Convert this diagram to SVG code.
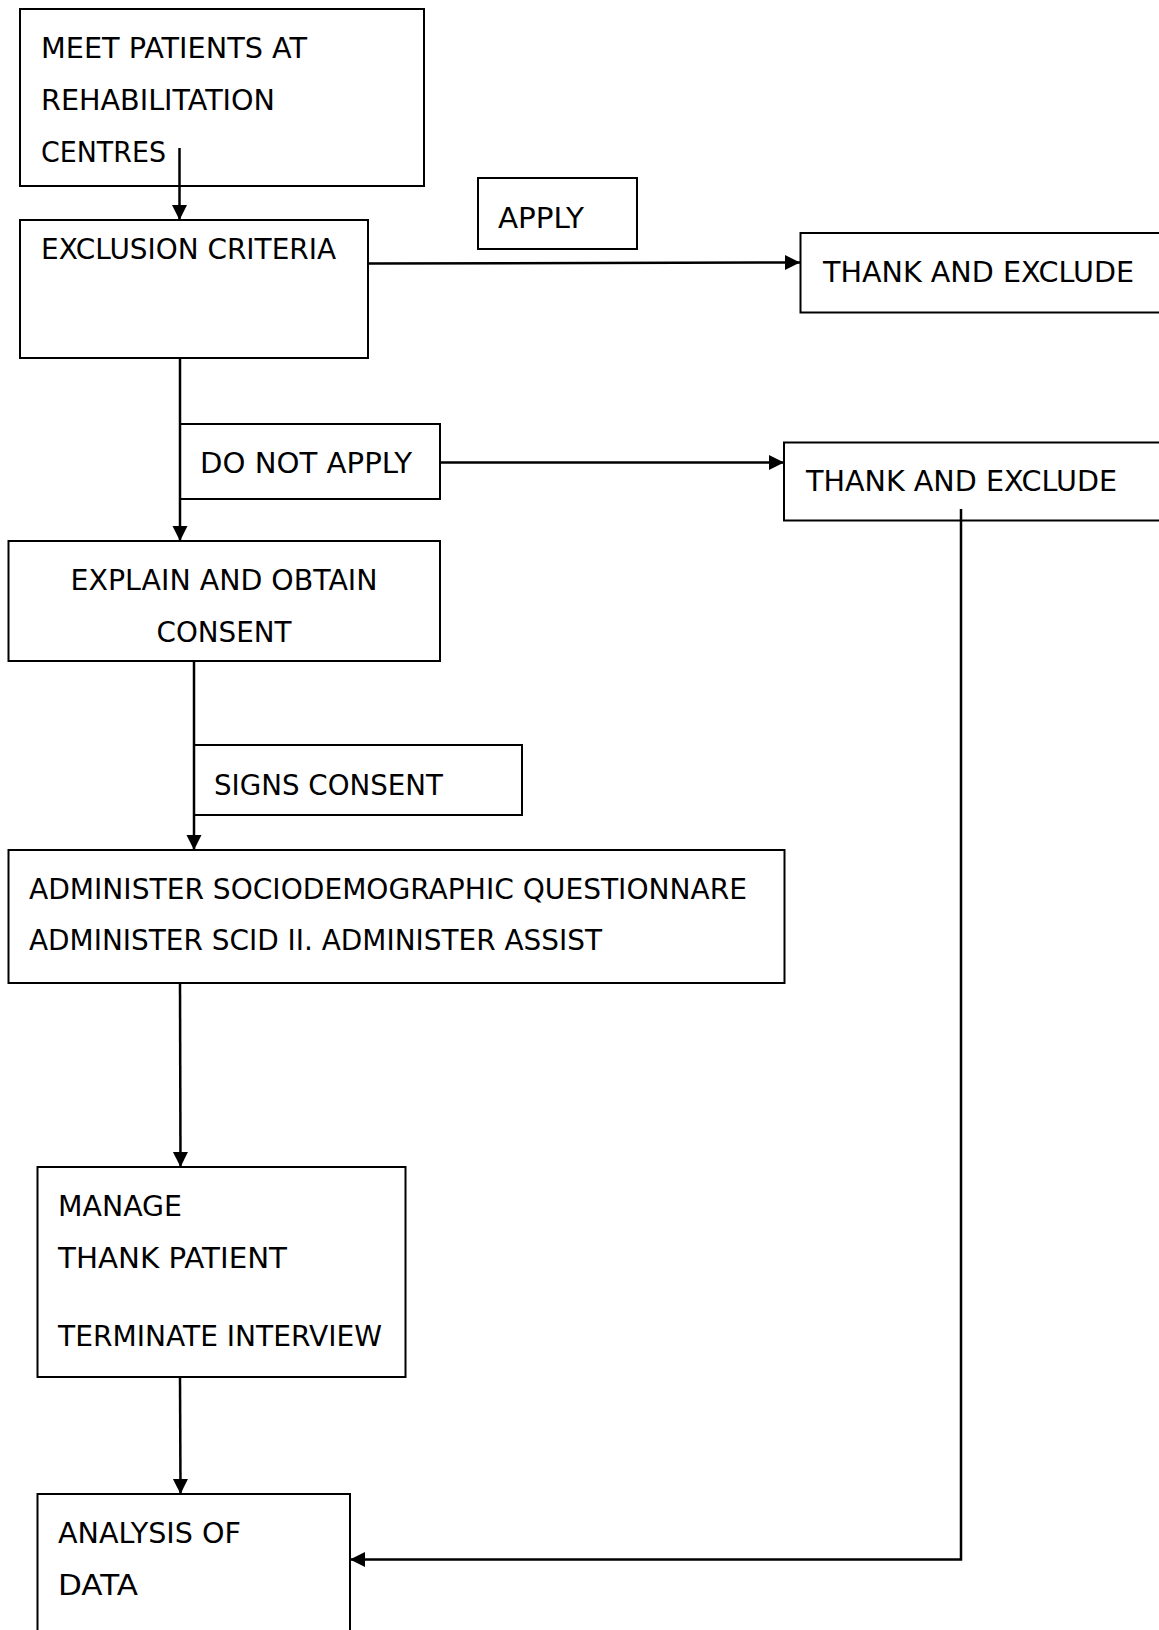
<svg xmlns="http://www.w3.org/2000/svg" width="1159" height="1630" viewBox="0 0 1159 1630">
<defs>
<marker id="ah" markerUnits="userSpaceOnUse" markerWidth="17" markerHeight="17" refX="15" refY="7.5" orient="auto">
<path d="M0,0 L15,7.5 L0,15 Z" fill="#000"/>
</marker>
</defs>
<style>
.box{fill:#fff;stroke:#000;stroke-width:2}
.t{font-family:"DejaVu Sans","Verdana",sans-serif;font-size:29px;fill:#000}
.c{fill:none;stroke:#000;stroke-width:2.5}
</style>
<rect width="1159" height="1630" fill="#fff"/>
<g id="n1"><rect class="box" x="20" y="9" width="404" height="177"/>
<text class="t" x="41" y="58" textLength="266" lengthAdjust="spacingAndGlyphs">MEET PATIENTS AT</text>
<text class="t" x="41" y="110" textLength="234" lengthAdjust="spacingAndGlyphs">REHABILITATION</text>
<text class="t" x="41" y="162" textLength="125" lengthAdjust="spacingAndGlyphs">CENTRES</text></g>
<g id="n2"><rect class="box" x="20" y="220" width="348" height="138"/>
<text class="t" x="41" y="259" textLength="295" lengthAdjust="spacingAndGlyphs">EXCLUSION CRITERIA</text></g>
<g id="n3"><rect class="box" x="478" y="178" width="159" height="71"/>
<text class="t" x="498" y="228" textLength="86" lengthAdjust="spacingAndGlyphs">APPLY</text></g>
<g id="n4"><rect class="box" x="800.5" y="233" width="370" height="79.5"/>
<text class="t" x="823" y="282" textLength="311" lengthAdjust="spacingAndGlyphs">THANK AND EXCLUDE</text></g>
<g id="n5"><rect class="box" x="180" y="424" width="260" height="75"/>
<text class="t" x="200" y="473" textLength="212" lengthAdjust="spacingAndGlyphs">DO NOT APPLY</text></g>
<g id="n6"><rect class="box" x="784" y="442.5" width="390" height="78"/>
<text class="t" x="806" y="491" textLength="311" lengthAdjust="spacingAndGlyphs">THANK AND EXCLUDE</text></g>
<g id="n7"><rect class="box" x="8.5" y="541" width="431.5" height="120"/>
<text class="t" x="224" y="590" text-anchor="middle" textLength="307" lengthAdjust="spacingAndGlyphs">EXPLAIN AND OBTAIN</text>
<text class="t" x="224" y="642" text-anchor="middle" textLength="135" lengthAdjust="spacingAndGlyphs">CONSENT</text></g>
<g id="n8"><rect class="box" x="194" y="745" width="328" height="70"/>
<text class="t" x="214" y="795" textLength="229" lengthAdjust="spacingAndGlyphs">SIGNS CONSENT</text></g>
<g id="n9"><rect class="box" x="8.5" y="850" width="776" height="133"/>
<text class="t" x="29" y="899" textLength="718" lengthAdjust="spacingAndGlyphs">ADMINISTER SOCIODEMOGRAPHIC QUESTIONNARE</text>
<text class="t" x="29" y="950" textLength="573" lengthAdjust="spacingAndGlyphs">ADMINISTER SCID II. ADMINISTER ASSIST</text></g>
<g id="n10"><rect class="box" x="37.5" y="1167" width="368" height="210"/>
<text class="t" x="58" y="1216" textLength="124" lengthAdjust="spacingAndGlyphs">MANAGE</text>
<text class="t" x="58" y="1268" textLength="229" lengthAdjust="spacingAndGlyphs">THANK PATIENT</text>
<text class="t" x="58" y="1346" textLength="324" lengthAdjust="spacingAndGlyphs">TERMINATE INTERVIEW</text></g>
<g id="n11"><rect class="box" x="37.5" y="1494" width="312.5" height="160"/>
<text class="t" x="58" y="1543" textLength="183" lengthAdjust="spacingAndGlyphs">ANALYSIS OF</text>
<text class="t" x="58" y="1595" textLength="80" lengthAdjust="spacingAndGlyphs">DATA</text></g>
<g id="connectors">
<line class="c" x1="179.5" y1="148" x2="179.5" y2="220" marker-end="url(#ah)"/>
<line class="c" x1="368" y1="263.5" x2="800" y2="262.5" marker-end="url(#ah)"/>
<line class="c" x1="180" y1="358" x2="180" y2="541" marker-end="url(#ah)"/>
<line class="c" x1="440" y1="462.5" x2="784" y2="462.5" marker-end="url(#ah)"/>
<line class="c" x1="194" y1="661" x2="194" y2="850" marker-end="url(#ah)"/>
<line class="c" x1="180" y1="983" x2="180.5" y2="1167" marker-end="url(#ah)"/>
<line class="c" x1="180" y1="1377" x2="180.5" y2="1494" marker-end="url(#ah)"/>
<polyline class="c" points="961,509 961,1559.5 350,1559.5" marker-end="url(#ah)"/>
</g>
</svg>
